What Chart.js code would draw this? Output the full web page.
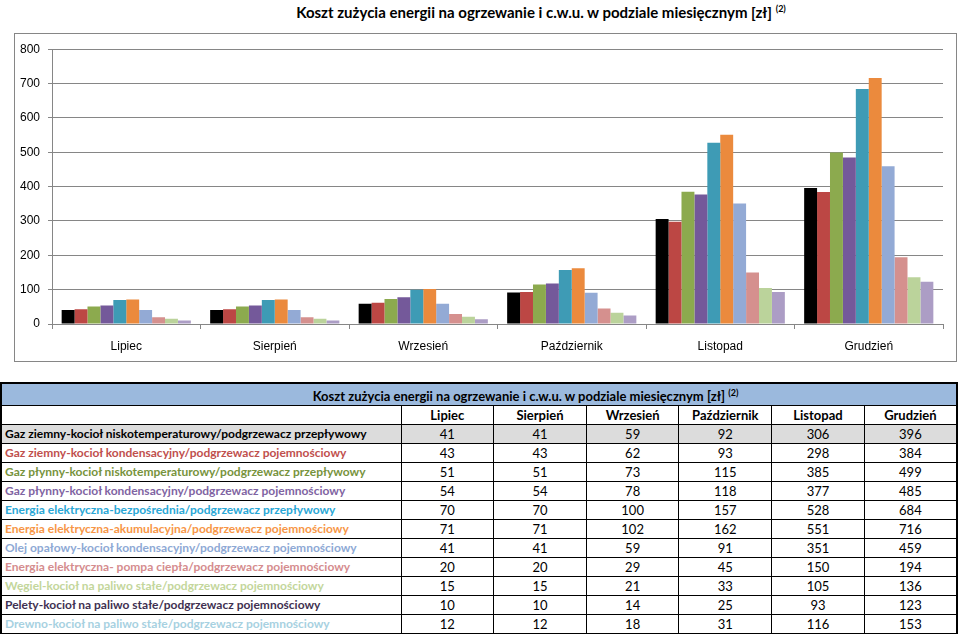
<!DOCTYPE html>
<html>
<head>
<meta charset="utf-8">
<script src="https://cdn.jsdelivr.net/npm/chart.js@4.4.1/dist/chart.umd.min.js"></script>
<style>
  body { margin: 0; background: #fff; width: 960px; height: 634px; position: relative; overflow: hidden; font-family: Lato, sans-serif; }
  #title { position: absolute; left: 0; width: 1082px; top: 3px; text-align: center; font-weight: bold; font-size: 15px; color: #000; }
  #title sup, #tab sup { font-size: 9px; }
  #box { position: absolute; left: 14px; top: 33px; width: 943px; height: 329px; border: 1px solid #868686; box-sizing: border-box; }
  #tab { position: absolute; left: 0; top: 382px; width: 958px; border-collapse: collapse; table-layout: fixed; border: 2px solid #000; font-size: 13px; }
  #tab td { border: 1px solid #000; padding: 0 3px; height: 18px; line-height: 18px; white-space: nowrap; overflow: hidden; text-align: center; color: #000; }
  #tab td.lab { text-align: left; font-weight: bold; font-size: 12px; }
  #tab tr.head td { font-weight: bold; }
  #tab tr.top td { background: #9BB9DD; font-weight: bold; height: 19px; padding-left: 96px; }
  #tab tr.grey td { background: #DCDCDC; }
</style>
</head>
<body>
<div id="title">Koszt zużycia energii na ogrzewanie i c.w.u. w podziale miesięcznym [zł] <sup>(2)</sup></div>
<div id="box"><canvas id="chart" width="941" height="327"></canvas></div>
<table id="tab"></table>
<script>
const months = ["Lipiec", "Sierpień", "Wrzesień", "Październik", "Listopad", "Grudzień"];
const yTicks = [0, 100, 200, 300, 400, 500, 600, 700, 800];

const seriesNames = [
  "Gaz ziemny-kocioł niskotemperaturowy/podgrzewacz przepływowy",
  "Gaz ziemny-kocioł kondensacyjny/podgrzewacz pojemnościowy",
  "Gaz płynny-kocioł niskotemperaturowy/podgrzewacz przepływowy",
  "Gaz płynny-kocioł kondensacyjny/podgrzewacz pojemnościowy",
  "Energia elektryczna-bezpośrednia/podgrzewacz przepływowy",
  "Energia elektryczna-akumulacyjna/podgrzewacz pojemnościowy",
  "Olej opałowy-kocioł kondensacyjny/podgrzewacz pojemnościowy",
  "Energia elektryczna- pompa ciepła/podgrzewacz pojemnościowy",
  "Węgiel-kocioł na paliwo stałe/podgrzewacz pojemnościowy",
  "Pelety-kocioł na paliwo stałe/podgrzewacz pojemnościowy",
  "Drewno-kocioł na paliwo stałe/podgrzewacz pojemnościowy",
];

const gazZiemnyNisko = [41, 41, 59, 92, 306, 396];
const gazZiemnyKond = [43, 43, 62, 93, 298, 384];
const gazPlynnyNisko = [51, 51, 73, 115, 385, 499];
const gazPlynnyKond = [54, 54, 78, 118, 377, 485];
const elektrBezp = [70, 70, 100, 157, 528, 684];
const elektrAkum = [71, 71, 102, 162, 551, 716];
const olejOpalowy = [41, 41, 59, 91, 351, 459];
const pompaCiepla = [20, 20, 29, 45, 150, 194];
const wegiel = [15, 15, 21, 33, 105, 136];
const pelety = [10, 10, 14, 25, 93, 123];
const drewno = [12, 12, 18, 31, 116, 153];

const allSeries = [gazZiemnyNisko, gazZiemnyKond, gazPlynnyNisko, gazPlynnyKond, elektrBezp,
  elektrAkum, olejOpalowy, pompaCiepla, wegiel, pelety, drewno];

// only the first ten series are drawn in the chart
const barColors = ["#000000", "#BC4744", "#8CAA4E", "#74599A", "#3E9BB5",
  "#EB8A3D", "#93AAD5", "#D5908E", "#BBD39B", "#AC9DC5"];
const textColors = ["#000000", "#C0504D", "#77933C", "#8064A2", "#2AA7D6",
  "#F79646", "#8EA9D5", "#D58C8E", "#C3D69B", "#3F3151", "#A7D1E1"];

const grid = "#868686";

new Chart(document.getElementById("chart"), {
  type: "bar",
  data: {
    labels: months,
    datasets: barColors.map((c, i) => ({
      label: seriesNames[i],
      data: allSeries[i],
      backgroundColor: c,
      categoryPercentage: 0.87,
      barPercentage: 1.0,
    })),
  },
  options: {
    responsive: false,
    animation: false,
    layout: { padding: { top: 12, right: 13, left: 0, bottom: 0 } },
    plugins: { legend: { display: false }, tooltip: { enabled: false } },
    scales: {
      x: {
        grid: { display: true, drawOnChartArea: false, offset: true, tickLength: 5, color: grid },
        border: { color: grid },
        ticks: { padding: 10, color: "#000", font: { family: "Liberation Sans", size: 12 } },
        afterFit: (s) => { s.height = 37; },
      },
      y: {
        min: 0,
        max: 800,
        grid: { color: grid, tickLength: 4 },
        border: { color: grid },
        afterBuildTicks: (s) => { s.ticks = yTicks.map((v) => ({ value: v })); },
        ticks: { padding: 8, color: "#000", font: { family: "Liberation Sans", size: 12 } },
        afterFit: (s) => { s.width = 37; },
      },
    },
  },
});

// table under the chart
const tab = document.getElementById("tab");
let html = '<colgroup><col style="width:400px">' + months.map(() => '<col>').join("") + '</colgroup>';
html += '<tr class="top"><td colspan="7">Koszt zużycia energii na ogrzewanie i c.w.u. w podziale miesięcznym [zł] <sup>(2)</sup></td></tr>';
html += '<tr class="head"><td></td>' + months.map((m) => '<td>' + m + '</td>').join("") + '</tr>';
seriesNames.forEach((name, i) => {
  html += '<tr' + (i === 0 ? ' class="grey"' : '') + '><td class="lab" style="color:' + textColors[i] + '">' + name + '</td>' +
    allSeries[i].map((v) => '<td>' + v + '</td>').join("") + '</tr>';
});
tab.innerHTML = html;
</script>
</body>
</html>
